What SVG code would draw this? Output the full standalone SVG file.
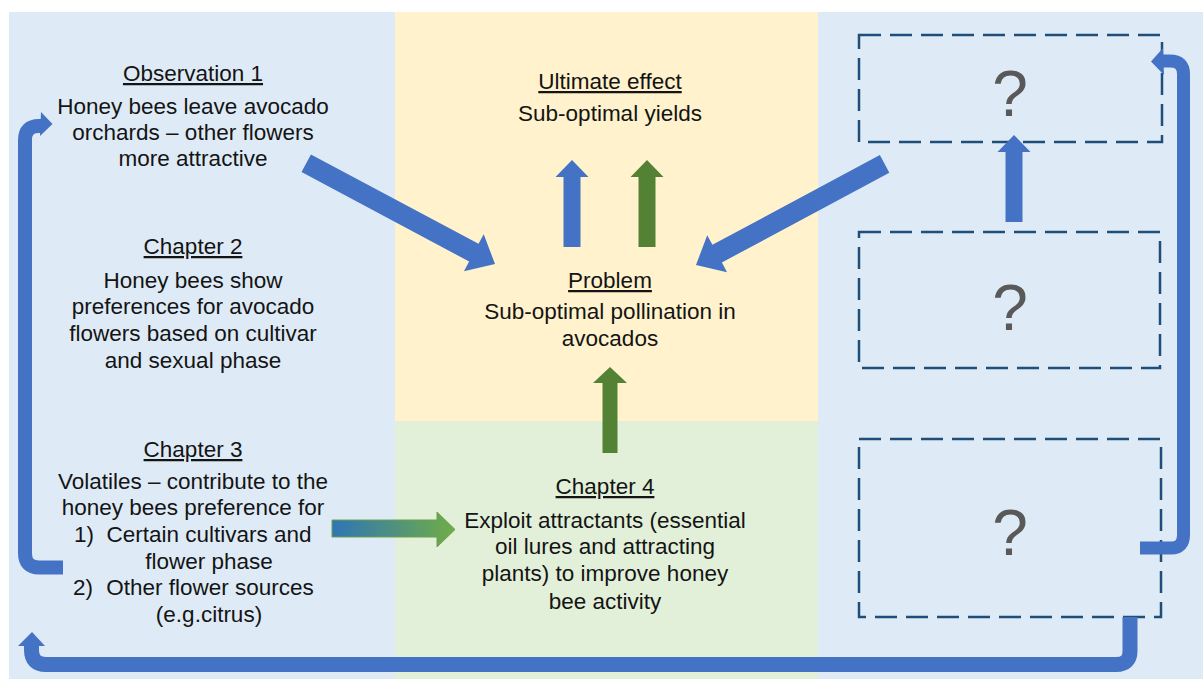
<svg xmlns="http://www.w3.org/2000/svg" width="1203" height="679" viewBox="0 0 1203 679">
<style>
text{font-family:"Liberation Sans",Arial,sans-serif;font-size:22.5px;fill:#141414;text-anchor:middle}
.t{text-decoration:underline}
.q{font-size:64px;fill:#595959}
.box{fill:none;stroke:#1F4E79;stroke-width:2.5;stroke-dasharray:22 9}
.blue{fill:#4472C4}
.green{fill:#548235}
.bl{fill:none;stroke:#4472C4}
</style>
<defs>
<linearGradient id="g1" x1="0" y1="0" x2="1" y2="0">
<stop offset="0" stop-color="#2E75B6"/>
<stop offset="1" stop-color="#70AD47"/>
</linearGradient>
</defs>
<rect width="1203" height="679" fill="#ffffff"/>
<g id="panels">
<rect x="9" y="12" width="386" height="667" fill="#DEEBF7"/>
<rect x="395" y="12" width="423" height="409" fill="#FFF2CC"/>
<rect x="395" y="421" width="423" height="258" fill="#E2F0D9"/>
<rect x="818" y="12" width="385" height="667" fill="#DEEBF7"/>
</g>
<g id="obs1">
<text x="193" y="81" class="t">Observation 1</text>
<text x="193" y="114">Honey bees leave avocado</text>
<text x="193" y="140">orchards – other flowers</text>
<text x="193" y="166">more attractive</text>
</g>
<g id="ch2">
<text x="193" y="254" class="t">Chapter 2</text>
<text x="193" y="288">Honey bees show</text>
<text x="193" y="314">preferences for avocado</text>
<text x="193" y="341">flowers based on cultivar</text>
<text x="193" y="368">and sexual phase</text>
</g>
<g id="ch3">
<text x="193" y="457" class="t">Chapter 3</text>
<text x="193" y="489">Volatiles – contribute to the</text>
<text x="193" y="515">honey bees preference for</text>
<text x="74" y="542" style="text-anchor:start">1)</text>
<text x="209" y="542">Certain cultivars and</text>
<text x="209" y="569">flower phase</text>
<text x="73" y="595" style="text-anchor:start">2)</text>
<text x="210" y="595">Other flower sources</text>
<text x="209" y="622">(e.g.citrus)</text>
</g>
<g id="ultimate">
<text x="610" y="89" class="t">Ultimate effect</text>
<text x="610" y="121">Sub-optimal yields</text>
</g>
<g id="problem">
<text x="610" y="288" class="t">Problem</text>
<text x="610" y="319">Sub-optimal pollination in</text>
<text x="610" y="346">avocados</text>
</g>
<g id="ch4">
<text x="605" y="494" class="t">Chapter 4</text>
<text x="605" y="528">Exploit attractants (essential</text>
<text x="605" y="554">oil lures and attracting</text>
<text x="605" y="581">plants) to improve honey</text>
<text x="605" y="609">bee activity</text>
</g>
<g id="q1">
<rect class="box" x="859" y="35" width="303" height="107"/>
<text x="1010" y="116" class="q">?</text>
</g>
<g id="q2">
<rect class="box" x="859" y="232" width="301" height="136"/>
<text x="1010" y="330" class="q">?</text>
</g>
<g id="q3">
<rect class="box" x="859" y="439" width="302" height="178"/>
<text x="1010" y="555" class="q">?</text>
</g>
<g id="connectors">
<polygon class="blue" points="-214,-10 -24,-10 -24,-21 0,0 -24,21 -24,10 -214,10" transform="translate(495,264) rotate(28.1)"/>
<polygon class="blue" points="-214,-10 -24,-10 -24,-21 0,0 -24,21 -24,10 -214,10" transform="translate(696,265) rotate(151.8)"/>
<polygon class="blue" points="-87,-8.5 -17,-8.5 -17,-16.5 0,0 -17,16.5 -17,8.5 -87,8.5" transform="translate(572,160) rotate(-90)"/>
<polygon class="green" points="-87,-8.5 -17,-8.5 -17,-16.5 0,0 -17,16.5 -17,8.5 -87,8.5" transform="translate(647,160) rotate(-90)"/>
<polygon class="green" points="-86,-7.5 -16,-7.5 -16,-17 0,0 -16,17 -16,7.5 -86,7.5" transform="translate(610,367) rotate(-90)"/>
<polygon class="blue" points="-87,-8.5 -17,-8.5 -17,-16.5 0,0 -17,16.5 -17,8.5 -87,8.5" transform="translate(1014,135) rotate(-90)"/>
<polygon fill="url(#g1)" stroke="#6E9F4A" stroke-width="1" points="332,520 437,520 437,512 455,529.5 437,547 437,537 332,537"/>
<path class="bl" stroke-width="13" d="M1140,548 H1171 Q1183.5,548 1183.5,535 V74 Q1183.5,61 1170,61 H1162"/>
<polygon class="blue" points="1163,48 1151,61.5 1164,75"/>
<path class="bl" stroke-width="15" d="M1130,617 V651 Q1130,664.5 1116,664.5 H46 Q31.5,664.5 31.5,650 V644"/>
<polygon class="blue" points="32,632 18,646 45,646"/>
<path class="bl" stroke-width="14" d="M63,567.5 H39 Q25,567.5 25,553 V140 Q25,126 39,126 H42"/>
<polygon class="blue" points="41,112 52.5,124 40,136"/>
</g>
</svg>
